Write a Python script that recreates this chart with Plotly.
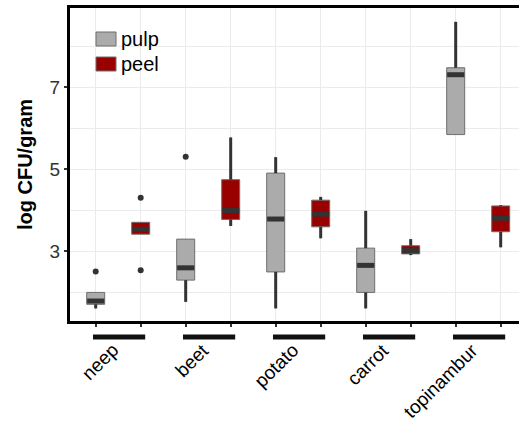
import plotly.graph_objects as go

# ---------------- data ----------------
categories = ["neep", "beet", "potato", "carrot", "topinambur"]
series_names = ["pulp", "peel"]

pulp_lower = [1.60, 1.76, 1.60, 1.60, 5.84]
pulp_q1 = [1.70, 2.29, 2.49, 1.99, 5.84]
pulp_median = [1.78, 2.59, 3.78, 2.65, 7.30]
pulp_q3 = [1.99, 3.29, 4.90, 3.07, 7.47]
pulp_upper = [1.99, 3.29, 5.29, 3.98, 8.59]
pulp_outliers = [[2.50], [5.30], [], [], []]

peel_lower = [3.41, 3.61, 3.31, 2.90, 3.09]
peel_q1 = [3.41, 3.77, 3.59, 2.93, 3.47]
peel_median = [3.53, 3.99, 3.90, 3.01, 3.80]
peel_q3 = [3.70, 4.74, 4.24, 3.13, 4.10]
peel_upper = [3.70, 5.77, 4.32, 3.29, 4.12]
peel_outliers = [[4.30, 2.53], [], [], [], []]

y_tick_values = [3, 5, 7]
y_minor_values = [2, 4, 6, 8]

# ---------------- style ----------------
FONT = "Liberation Sans, Arial, sans-serif"
PULP_FILL = "#ababab"
PEEL_FILL = "#990000"
OUTLINE = "#6e6e6e"
DARK = "#333333"
GRID = "#ebebeb"
BOX_W = 0.4

n = len(categories)
pulp_x = [2 * i + 1 for i in range(n)]
peel_x = [2 * i + 2 for i in range(n)]

fig = go.Figure()

series = [
    ("pulp", pulp_x, pulp_lower, pulp_q1, pulp_median, pulp_q3, pulp_upper, pulp_outliers, PULP_FILL),
    ("peel", peel_x, peel_lower, peel_q1, peel_median, peel_q3, peel_upper, peel_outliers, PEEL_FILL),
]

for name, xs, lo, q1, med, q3, hi, outs, fill in series:
    fig.add_trace(go.Box(
        name=name, x=xs, q1=q1, median=med, q3=q3,
        lowerfence=lo, upperfence=hi, width=BOX_W,
        fillcolor=fill, line=dict(color=OUTLINE, width=1),
        whiskerwidth=0, boxpoints=False, showlegend=False,
        hoverinfo="skip",
    ))

for name, xs, lo, q1, med, q3, hi, outs, fill in series:
    # whiskers
    wx, wy = [], []
    for x, a, b, c, d in zip(xs, lo, q1, q3, hi):
        if b > a:
            wx += [x, x, None]; wy += [a, b, None]
        if d > c:
            wx += [x, x, None]; wy += [c, d, None]
    fig.add_trace(go.Scatter(x=wx, y=wy, mode="lines",
                             line=dict(color=DARK, width=3),
                             showlegend=False, hoverinfo="skip"))
    # medians
    mx, my = [], []
    for x, m in zip(xs, med):
        mx += [x - BOX_W / 2 + 0.01, x + BOX_W / 2 - 0.01, None]
        my += [m, m, None]
    fig.add_trace(go.Scatter(x=mx, y=my, mode="lines",
                             line=dict(color=DARK, width=5),
                             showlegend=False, hoverinfo="skip"))
    # outliers
    ox, oy = [], []
    for x, o in zip(xs, outs):
        for v in o:
            ox.append(x); oy.append(v)
    fig.add_trace(go.Scatter(x=ox, y=oy, mode="markers",
                             marker=dict(color=DARK, size=6),
                             showlegend=False, hoverinfo="skip"))

# ---------------- layout geometry ----------------
W, H = 519, 425
ML, MR, MT, MB = 70, 0, 8, 104
plot_w = W - ML - MR
plot_h = H - MT - MB


def px_to_paper_x(px):
    return (px - ML) / plot_w


def px_to_paper_y(py):
    return (H - MB - py) / plot_h


shapes = []
annotations = []

# group underline bars and rotated labels
for i, cat in enumerate(categories):
    x0 = pulp_x[i] - 0.06
    x1 = peel_x[i] + 0.1
    shapes.append(dict(type="line", xref="x", yref="paper",
                       x0=x0, x1=x1, y0=px_to_paper_y(337), y1=px_to_paper_y(337),
                       line=dict(color="#111111", width=5)))
    center = (pulp_x[i] + peel_x[i]) / 2
    annotations.append(dict(text=cat, xref="x", yref="paper",
                            x=center + 0.13, y=px_to_paper_y(338),
                            xanchor="right", yanchor="top", textangle=-45,
                            showarrow=False, borderpad=0,
                            font=dict(family=FONT, size=19, color="#000000")))

# manual legend
for k, (name, fill) in enumerate([("pulp", PULP_FILL), ("peel", PEEL_FILL)]):
    top = 32 + 25 * k
    shapes.append(dict(type="rect", xref="paper", yref="paper",
                       x0=px_to_paper_x(96), x1=px_to_paper_x(116),
                       y0=px_to_paper_y(top + 14), y1=px_to_paper_y(top),
                       fillcolor=fill, line=dict(color=OUTLINE, width=1)))
    annotations.append(dict(text=name, xref="paper", yref="paper",
                            x=px_to_paper_x(119), y=px_to_paper_y(top + 7),
                            xanchor="left", yanchor="middle", showarrow=False,
                            font=dict(family=FONT, size=20, color="#000000")))

fig.update_layout(
    width=W, height=H,
    margin=dict(l=ML, r=MR, t=MT, b=MB, pad=0),
    paper_bgcolor="white", plot_bgcolor="white",
    font=dict(family=FONT, color="#000000"),
    showlegend=False,
    shapes=shapes, annotations=annotations,
    xaxis=dict(
        range=[0.429, 10.407],
        tickvals=list(range(1, 2 * n + 1)),
        ticktext=[""] * (2 * n),
        ticks="outside", ticklen=3, tickwidth=1.5, tickcolor=DARK,
        showgrid=True, gridcolor=GRID, gridwidth=1,
        showline=True, linecolor="#000000", linewidth=3, mirror=True,
        zeroline=False,
    ),
    yaxis=dict(
        range=[1.293, 8.927],
        tickvals=y_tick_values,
        ticktext=[str(v) for v in y_tick_values],
        ticks="outside", ticklen=3, tickwidth=1.5, tickcolor=DARK,
        tickfont=dict(family=FONT, size=19, color="#333333"),
        showgrid=True, gridcolor=GRID, gridwidth=1,
        minor=dict(tickvals=y_minor_values, showgrid=True, gridcolor=GRID, gridwidth=1, ticks=""),
        showline=True, linecolor="#000000", linewidth=3, mirror=False,
        zeroline=False,
        title=dict(text="<b>log CFU/gram</b>", standoff=12,
                   font=dict(family=FONT, size=20, color="#000000")),
    ),
)

fig.write_html("out.html")
